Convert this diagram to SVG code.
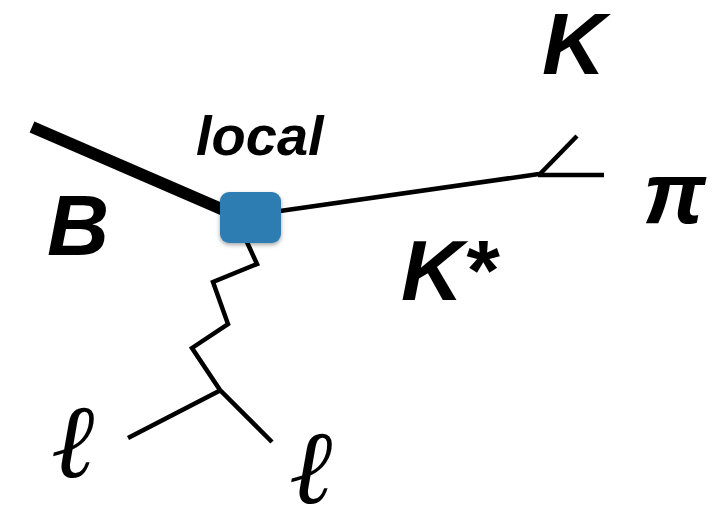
<svg xmlns="http://www.w3.org/2000/svg" width="719" height="509" viewBox="0 0 719 509">
  <defs>
    <style>
      .lbl { font-family: "Liberation Sans", Arial, sans-serif; font-weight: bold; font-style: italic; fill: #000; }
      .ell { font-family: "DejaVu Serif", "Liberation Serif", serif; font-style: italic; fill: #000; }
      .ln { stroke: #000; fill: none; stroke-linejoin: miter; }
    </style>
    <filter id="shadow" x="-20%" y="-20%" width="140%" height="150%">
      <feDropShadow dx="0" dy="2" stdDeviation="2" flood-color="#000" flood-opacity="0.35"/>
    </filter>
  </defs>
  <rect width="719" height="509" fill="#fff"/>

  <g id="connectors">
    <!-- B meson line -->
    <line class="ln" x1="32" y1="127" x2="226" y2="211" stroke-width="12"/>
    <!-- K* line -->
    <line class="ln" x1="280" y1="211" x2="539" y2="174" stroke-width="4.5"/>
    <!-- K and pi -->
    <line class="ln" x1="539" y1="175" x2="577" y2="136" stroke-width="4.5"/>
    <line class="ln" x1="538" y1="175" x2="604" y2="175" stroke-width="4.5"/>
    <!-- photon zigzag -->
    <polyline class="ln" points="246,240 257,264 213,282 228,324 192,348 220,390 272,442" stroke-width="4.5"/>
    <!-- lepton -->
    <line class="ln" x1="221" y1="390" x2="128" y2="438" stroke-width="4.5"/>
  </g>

  <g id="vertex">
    <rect x="220" y="192" width="61" height="51" rx="9" fill="#2E7DB2" filter="url(#shadow)"/>
  </g>

  <g id="labels">
    <text class="lbl" x="196" y="155" font-size="56">local</text>
    <text class="lbl" x="47" y="255" font-size="86">B</text>
    <text class="lbl" x="542" y="74" font-size="88">K</text>
    <text class="lbl" x="643" y="223" font-size="88">π</text>
    <text class="lbl" x="401" y="300" font-size="86">K*</text>
    <text class="ell" x="51" y="477" font-size="104">ℓ</text>
    <text class="ell" x="289" y="503" font-size="104">ℓ</text>
  </g>
</svg>
